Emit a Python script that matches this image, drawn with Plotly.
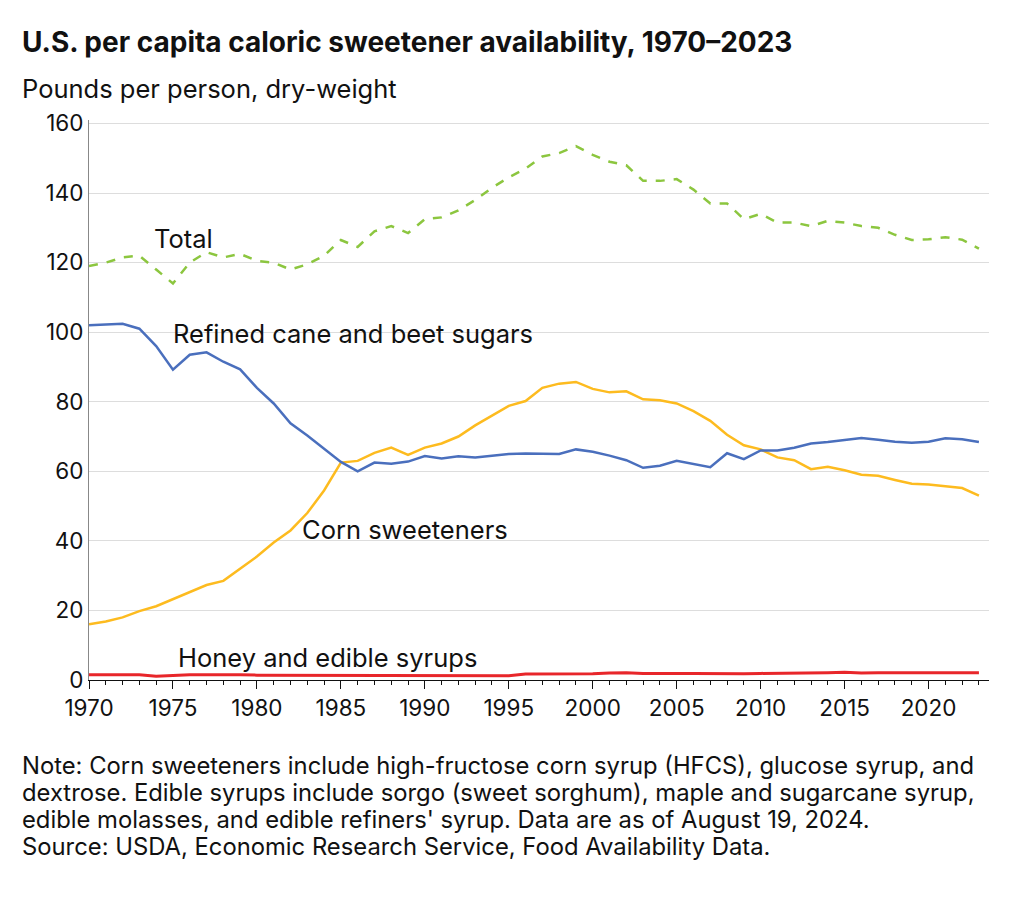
import plotly.graph_objects as go

years = list(range(1970, 2024))

total = [119, 120, 121.5, 122, 118, 114, 120, 123, 121.5, 122.5,
         120.5, 120, 118, 119.5, 122, 126.5, 124.5, 129, 130.5, 128.5,
         132.5, 133, 135, 138, 141.5, 144.5, 147, 150.5, 151.5, 153.5,
         151, 149, 148, 143.5, 143.5, 144, 141, 137, 137, 132.5,
         134, 131.5, 131.5, 130.5, 132, 131.5, 130.5, 130, 128, 126.5,
         126.7, 127.3, 126.6, 124]

refined = [102, 102.2, 102.4, 101, 96, 89.2, 93.5, 94.2, 91.5, 89.3,
           84, 79.5, 73.8, 70.3, 66.5, 62.7, 60, 62.5, 62.2, 62.8,
           64.4, 63.7, 64.3, 64, 64.5, 65, 65.1, 65, 65, 66.3,
           65.6, 64.5, 63.2, 61, 61.6, 63, 62.2, 61.2, 65.2, 63.5,
           66, 66, 66.8, 68, 68.4, 69, 69.6, 69.1, 68.5, 68.2,
           68.5, 69.5, 69.2, 68.4]

corn = [16, 16.8, 18, 19.8, 21.2, 23.3, 25.3, 27.3, 28.5, 32,
        35.5, 39.5, 43, 48, 54.5, 62.5, 63, 65.3, 66.8, 64.7,
        66.8, 68, 70, 73.2, 76, 78.8, 80.2, 84, 85.2, 85.7,
        83.7, 82.7, 83, 80.7, 80.4, 79.5, 77.3, 74.5, 70.5, 67.5,
        66.3, 64, 63.2, 60.6, 61.3, 60.3, 59, 58.7, 57.5, 56.4,
        56.2, 55.6, 55.2, 53]

honey = [1.5, 1.5, 1.5, 1.5, 1.1, 1.4, 1.5, 1.5, 1.6, 1.5,
         1.4, 1.4, 1.4, 1.4, 1.4, 1.4, 1.4, 1.4, 1.3, 1.3,
         1.3, 1.3, 1.3, 1.2, 1.2, 1.2, 1.7, 1.7, 1.7, 1.8,
         1.8, 2.0, 2.1, 1.9, 1.8, 1.9, 1.9, 1.8, 1.8, 1.8,
         1.9, 1.9, 1.9, 2.0, 2.1, 2.2, 2.0, 2.1, 2.1, 2.1,
         2.1, 2.2, 2.2, 2.1]

note_lines = [
    "Note: Corn sweeteners include high-fructose corn syrup (HFCS), glucose syrup, and",
    "dextrose. Edible syrups include sorgo (sweet sorghum), maple and sugarcane syrup,",
    "edible molasses, and edible refiners' syrup. Data are as of August 19, 2024.",
    "Source: USDA, Economic Research Service, Food Availability Data.",
]

font = "Inter"

fig = go.Figure()
fig.add_trace(go.Scatter(x=years, y=honey, mode="lines", line=dict(color="#e8262a", width=3)))
fig.add_trace(go.Scatter(x=years, y=corn, mode="lines", line=dict(color="#fdbb1f", width=2.5)))
fig.add_trace(go.Scatter(x=years, y=refined, mode="lines", line=dict(color="#4a6fbd", width=2.5)))
fig.add_trace(go.Scatter(x=years, y=total, mode="lines", line=dict(color="#8cc63f", width=2.5, dash="dash")))

labels = [("Total", 1973.9, 127), ("Refined cane and beet sugars", 1975, 99.7),
          ("Corn sweeteners", 1982.7, 43.4), ("Honey and edible syrups", 1975.3, 6.6)]
for text, x, y in labels:
    fig.add_annotation(x=x, y=y, text=text, showarrow=False, xanchor="left", xshift=-2,
                       font=dict(size=25.5, color="#111"))

fig.add_annotation(xref="paper", yref="paper", x=-0.077, y=1.139, xanchor="left", yanchor="middle",
                   text="<b>U.S. per capita caloric sweetener availability, 1970–2023</b>",
                   showarrow=False, font=dict(size=28, color="#111"))
fig.add_annotation(xref="paper", yref="paper", x=-0.077, y=1.057, xanchor="left", yanchor="middle",
                   text="Pounds per person, dry-weight", showarrow=False,
                   font=dict(size=25.5, color="#111"))
# note lines: centres at 757, 784, 811 and source at 838 px in figure space
for i, line in enumerate(note_lines):
    fig.add_annotation(xref="paper", yref="paper", x=-0.077, y=-(757 + 27 * i - 672) / 560,
                       xanchor="left", yanchor="middle", showarrow=False,
                       font=dict(size=23.8, color="#111"), text=line)

fig.update_layout(
    width=1024, height=899,
    margin=dict(l=81, r=43, t=112, b=227),
    plot_bgcolor="white", paper_bgcolor="white",
    showlegend=False,
    font=dict(family=font, color="#111"),
)
fig.update_xaxes(range=[1970, 2023.6], tickvals=list(range(1970, 2021, 5)),
                 showline=True, linecolor="#111", ticks="outside", ticklen=8,
                 tickcolor="#111", showgrid=False, tickfont=dict(size=22.5), zeroline=False,
                 minor=dict(dtick=1, tick0=1970, ticks="outside", ticklen=4, tickcolor="#111"))
fig.update_yaxes(range=[0, 161], tickvals=list(range(0, 161, 20)),
                 showgrid=True, gridcolor="#ddd", showline=True, linecolor="#888",
                 tickfont=dict(size=22.5), zeroline=False, ticks="")

fig.write_html("out.html")
